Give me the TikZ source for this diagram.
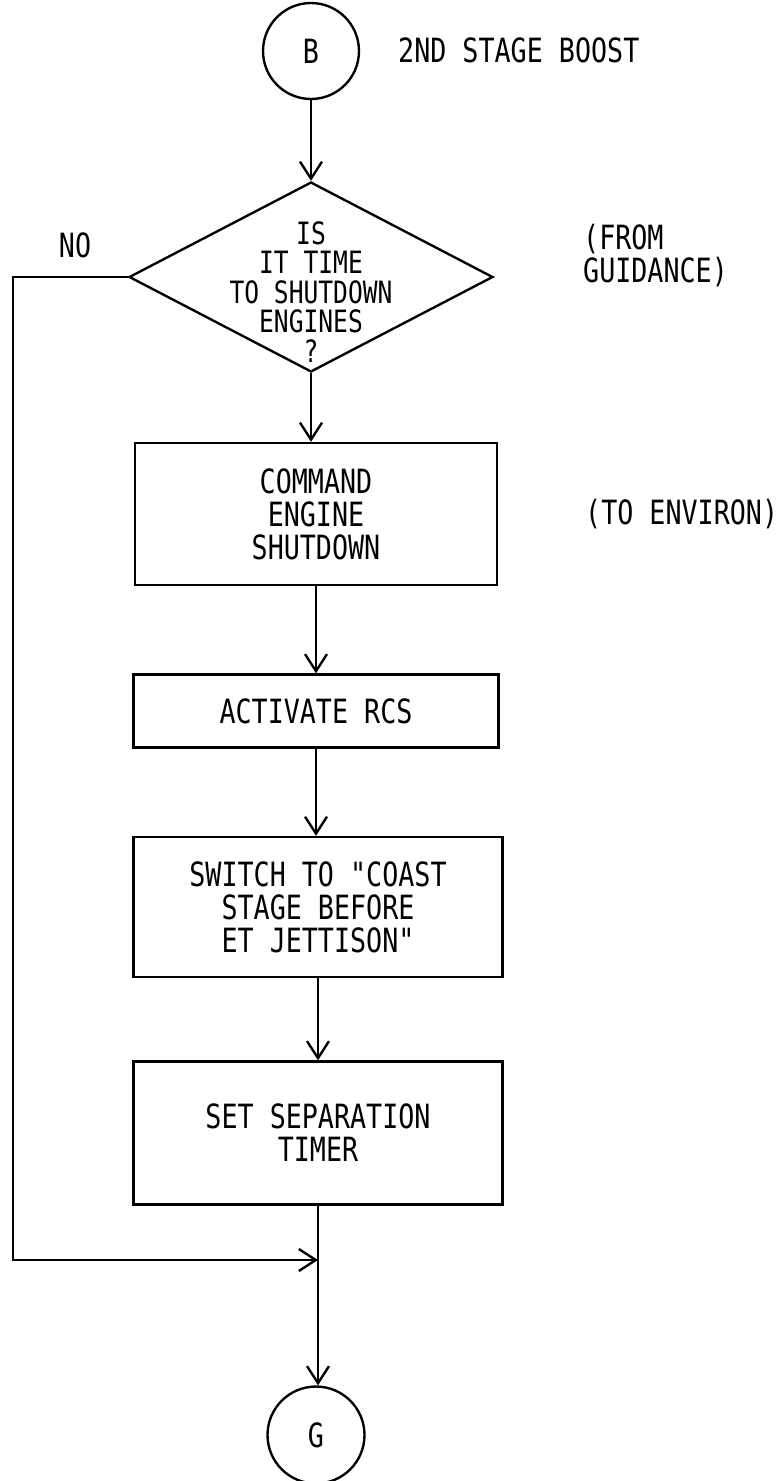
\documentclass[tikz,border=0pt]{standalone}
\usepackage{fontspec}
\newfontfamily\plotfont{DejaVu Sans Mono}[FakeStretch=0.8]
\usetikzlibrary{shapes.geometric,arrows.meta}

\begin{document}
\begin{tikzpicture}[x=0.02cm, y=-0.02cm, line width=1.35pt,
    every node/.style={font=\plotfont\fontsize{19pt}{18.8pt}\selectfont},
    blk/.style={draw, rectangle, inner sep=0pt, align=center},
    arr/.style={-{Straight Barb[length=3.4mm, width=4.4mm]}}]
    \useasboundingbox (0,0) rectangle (781,1481);

    % Вход B
    \node[draw, circle, minimum size=1.92cm, inner sep=0pt] (b) at (311,51) {B};
    \node[anchor=west, inner sep=0pt] (title) at (397,50) {2ND STAGE BOOST};

    % Проверка
    \node[draw, diamond, minimum width=7.28cm, minimum height=3.8cm, inner sep=0pt] (q) at (311,277) {};
    \node[align=center, font=\plotfont\fontsize{17.5pt}{16.8pt}\selectfont] (qtext) at (311,292)
        {IS\\IT TIME\\TO SHUTDOWN\\ENGINES\\?};
    \node (no) at (75,245) {NO};
    \node[anchor=north west, align=left, inner sep=0pt] (src) at (582,223) {(FROM\\GUIDANCE)};

    % Блоки
    \node[blk, minimum width=7.24cm, minimum height=2.84cm] (cmd) at (316,514) {COMMAND\\ENGINE\\SHUTDOWN};
    \node[anchor=west, inner sep=0pt] (dst) at (584,514) {(TO ENVIRON)};
    \node[blk, minimum width=7.3cm, minimum height=1.46cm] (rcs) at (316,711) {ACTIVATE RCS};
    \node[blk, minimum width=7.38cm, minimum height=2.8cm] (coast) at (318,907)
        {SWITCH TO "COAST\\STAGE BEFORE\\ET JETTISON"};
    \node[blk, minimum width=7.38cm, minimum height=2.86cm] (timer) at (318,1133) {SET SEPARATION\\TIMER};

    % Выход G
    \node[draw, circle, minimum size=1.94cm, inner sep=0pt] (g) at (316,1435) {G};

    % Стрелки
    \coordinate (lx) at (13,0);
    \coordinate (jy) at (0,1260);
    \coordinate (join) at (timer.south |- jy);
    \draw[arr] (b) -- (q);
    \draw[arr] (q.south) -- (q.south |- cmd.north);
    \draw[arr] (cmd) -- (cmd.south |- rcs.north);
    \draw[arr] (rcs) -- (rcs.south |- coast.north);
    \draw[arr] (coast) -- (timer);
    \draw[arr] (timer) -- (timer.south |- g.north);
    \draw[arr] (q.west) -- (q.west -| lx) |- (join);
\end{tikzpicture}
\end{document}
